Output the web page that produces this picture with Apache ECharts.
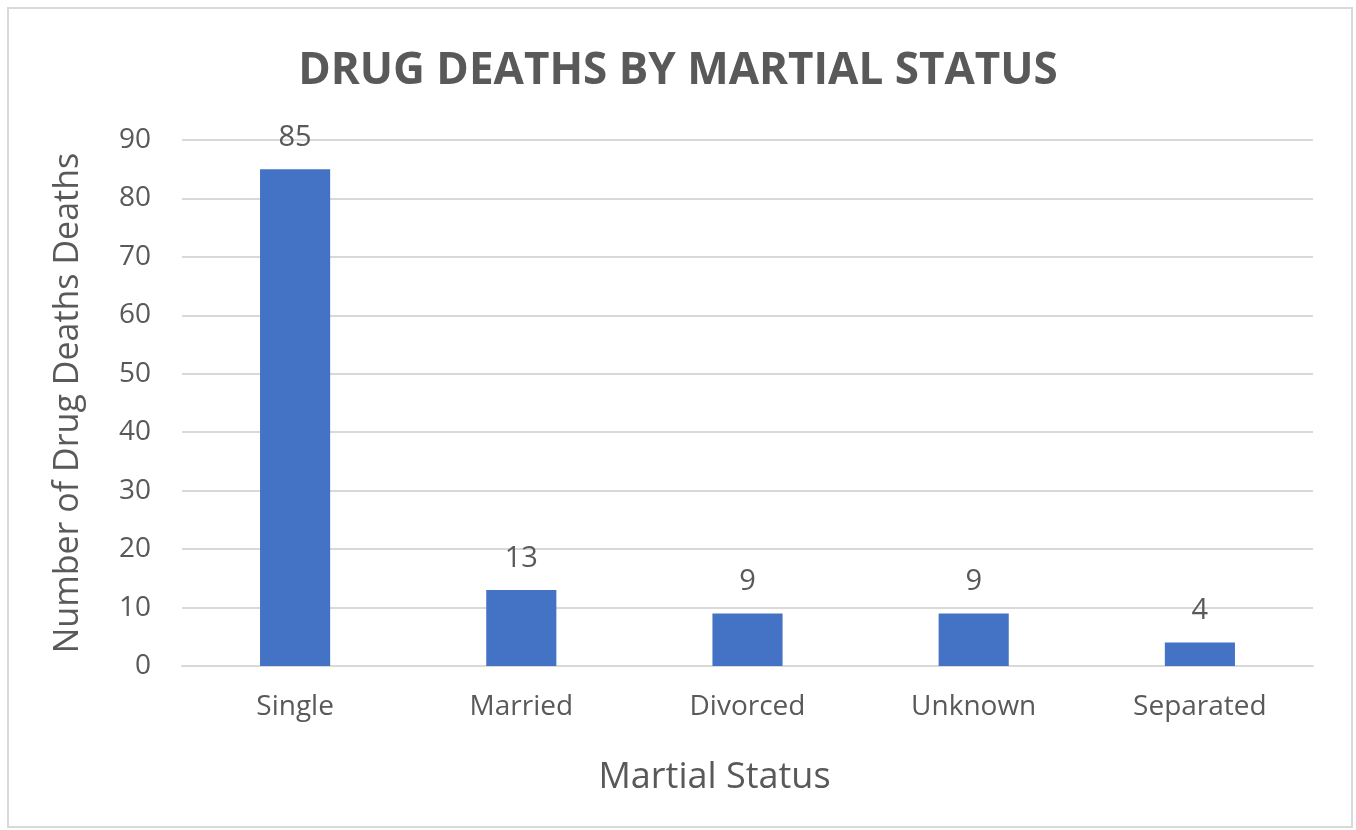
<!DOCTYPE html>
<html>
<head>
<meta charset="utf-8">
<script src="https://cdn.jsdelivr.net/npm/echarts@6/dist/echarts.min.js"></script>
<style>
  html, body { margin: 0; padding: 0; background: #fff; }
  #chart { width: 1356px; height: 830px; }
</style>
</head>
<body>
<div id="chart"></div>
<script>
// Drug deaths grouped by marital status
const categories = ['Single', 'Married', 'Divorced', 'Unknown', 'Separated'];
const deaths = [85, 13, 9, 9, 4];
const yTicks = [0, 10, 20, 30, 40, 50, 60, 70, 80, 90];

const textColor = '#595959';
const fontFamily = '"Open Sans", "Noto Sans", sans-serif';

const chart = echarts.init(document.getElementById('chart'));
chart.setOption({
  animation: false,
  backgroundColor: '#fff',
  textStyle: { fontFamily: fontFamily },
  graphic: [{
    type: 'rect',
    shape: { x: 8, y: 8, width: 1344, height: 819 },
    style: { fill: 'none', stroke: '#d9d9d9', lineWidth: 2 },
    silent: true
  }],
  title: {
    text: 'DRUG DEATHS BY MARTIAL STATUS',
    left: 'center',
    top: 44,
    padding: [5, 0, 5, 6],
    textStyle: { color: textColor, fontSize: 44, fontWeight: 'bold', fontFamily: fontFamily }
  },
  grid: { left: 182, right: 43, top: 140, bottom: 164 },
  xAxis: {
    type: 'category',
    data: categories,
    name: 'Martial Status',
    nameLocation: 'middle',
    nameGap: 94,
    nameTextStyle: { color: textColor, fontSize: 36, fontFamily: fontFamily, padding: [0, 66, 0, 0] },
    axisLine: { show: true, lineStyle: { color: '#d9d9d9', width: 2 } },
    axisTick: { show: false },
    axisLabel: { color: textColor, fontSize: 28, margin: 27, fontFamily: fontFamily }
  },
  yAxis: {
    type: 'value',
    min: yTicks[0],
    max: yTicks[yTicks.length - 1],
    interval: 10,
    name: 'Number of Drug Deaths Deaths',
    nameLocation: 'middle',
    nameGap: 97,
    nameTextStyle: { color: textColor, fontSize: 34, fontFamily: fontFamily },
    axisLine: { show: false },
    axisTick: { show: false },
    splitLine: { lineStyle: { color: '#d9d9d9', width: 2 } },
    axisLabel: { color: textColor, fontSize: 28, margin: 31, fontFamily: fontFamily }
  },
  series: [{
    type: 'bar',
    data: deaths,
    barWidth: '31%',
    itemStyle: { color: '#4472c4' },
    label: {
      show: true,
      position: 'top',
      distance: 17,
      color: textColor,
      fontSize: 29,
      fontFamily: fontFamily
    }
  }]
});
</script>
</body>
</html>
